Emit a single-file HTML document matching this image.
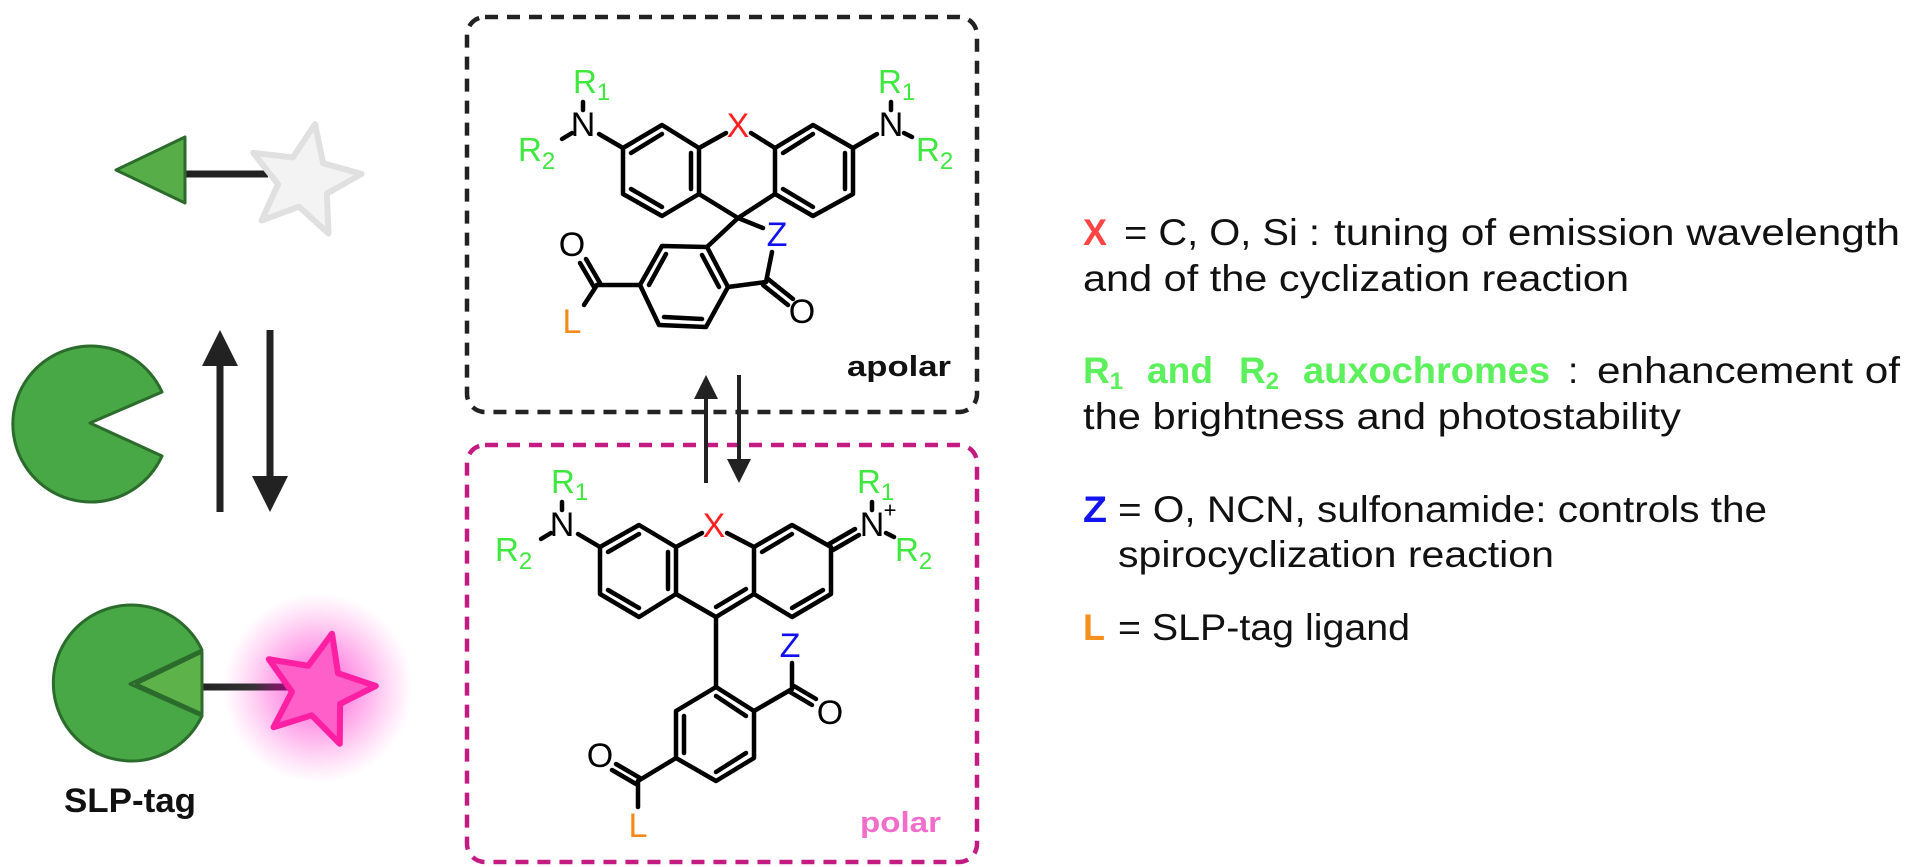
<!DOCTYPE html>
<html><head><meta charset="utf-8"><style>
html,body{margin:0;padding:0;background:#fff;}
svg{display:block;}
</style></head><body>
<svg width="1920" height="867" viewBox="0 0 1920 867" xmlns="http://www.w3.org/2000/svg">
<defs>
<radialGradient id="glow" cx="0.5" cy="0.5" r="0.5">
<stop offset="0" stop-color="#ff40d0" stop-opacity="0.9"/>
<stop offset="0.55" stop-color="#ff60d8" stop-opacity="0.45"/>
<stop offset="1" stop-color="#ff80e0" stop-opacity="0"/>
</radialGradient>
<linearGradient id="lg" gradientUnits="userSpaceOnUse" x1="202" y1="0" x2="285" y2="0">
<stop offset="0" stop-color="#222"/><stop offset="0.6" stop-color="#333"/><stop offset="1" stop-color="#8a1470"/>
</linearGradient>
</defs>

<!-- LEFT SIDE -->
<line x1="185" y1="174" x2="268" y2="174" stroke="#222" stroke-width="7"/>
<polygon points="116,170 185,137 185,203" fill="#57ad47" stroke="#2b6b2b" stroke-width="3" stroke-linejoin="round"/>
<polygon points="0,-1 .265,-.364 .951,-.309 .428,.139 .588,.809 0,.45 -.588,.809 -.428,.139 -.951,-.309 -.265,-.364" transform="translate(304,181) rotate(11) scale(58)" fill="#f3f3f3" stroke="#e0e0e0" stroke-width="6" vector-effect="non-scaling-stroke" stroke-linejoin="round"/>

<path d="M90,423 L162,392 A78,78 0 1,0 162,456 Z" fill="#48a845" stroke="#2b6b2b" stroke-width="3" stroke-linejoin="round"/>

<line x1="220" y1="512" x2="220" y2="360" stroke="#222" stroke-width="7"/>
<polygon points="220,330 202,366 238,366" fill="#222"/>
<line x1="270" y1="330" x2="270" y2="480" stroke="#222" stroke-width="7"/>
<polygon points="270,512 252,476 288,476" fill="#222"/>

<circle cx="318" cy="688" r="95" fill="url(#glow)"/>
<line x1="202" y1="687" x2="290" y2="687" stroke="url(#lg)" stroke-width="7"/>
<path d="M130,684 L202,650 A78,78 0 1,0 202,716 Z" fill="#48a845" stroke="#2b6b2b" stroke-width="3" stroke-linejoin="round"/>
<polygon points="136,684 202,652 202,714" fill="#5db34a" stroke="#2b6b2b" stroke-width="3" stroke-linejoin="round"/>
<polygon points="0,-1 .265,-.364 .951,-.309 .428,.139 .588,.809 0,.45 -.588,.809 -.428,.139 -.951,-.309 -.265,-.364" transform="translate(318,690) rotate(14) scale(58)" fill="#ff5fc8" stroke="#ff1fa2" stroke-width="6" vector-effect="non-scaling-stroke" stroke-linejoin="round"/>
<text x="64" y="812" font-family="Liberation Sans, sans-serif" font-weight="bold" font-size="34" textLength="132" lengthAdjust="spacingAndGlyphs" fill="#111">SLP-tag</text>

<!-- BOXES -->
<rect x="467" y="17" width="510" height="395" rx="18" fill="none" stroke="#222" stroke-width="4.5" stroke-dasharray="13 9"/>
<rect x="467" y="445" width="510" height="417" rx="18" fill="none" stroke="#c41b82" stroke-width="4.5" stroke-dasharray="13 9"/>

<!-- middle arrows -->
<line x1="706" y1="483" x2="706" y2="395" stroke="#222" stroke-width="4"/>
<polygon points="706,375 694,399 718,399" fill="#222"/>
<line x1="739" y1="375" x2="739" y2="462" stroke="#222" stroke-width="4"/>
<polygon points="739,483 727,459 751,459" fill="#222"/>

<!-- APOLAR MOLECULE -->
<g stroke="#000" stroke-width="4.5" fill="none" stroke-linecap="round" stroke-linejoin="round">
<polygon points="662,125 699,148 699,194 662,216 623,194 623,148"/>
<polygon points="813,125 775,148 775,194 813,216 853,194 853,148"/>
<line x1="662" y1="134" x2="631" y2="153"/>
<line x1="691" y1="153" x2="691" y2="189"/>
<line x1="662" y1="207" x2="631" y2="189"/>
<line x1="813" y1="134" x2="783" y2="153"/>
<line x1="845" y1="189" x2="845" y2="153"/>
<line x1="783" y1="189" x2="813" y2="207"/>
<line x1="699" y1="148" x2="726" y2="133"/>
<line x1="751" y1="133" x2="775" y2="148"/>
<line x1="623" y1="148" x2="599" y2="134"/>
<line x1="853" y1="148" x2="877" y2="134"/>
<line x1="583" y1="110" x2="583" y2="102"/>
<line x1="572" y1="133" x2="562" y2="139"/>
<line x1="891" y1="110" x2="891" y2="102"/>
<line x1="904" y1="133" x2="912" y2="137"/>
<polyline points="699,194 738,218 775,194"/>
<line x1="738" y1="218" x2="763" y2="228"/>
<polygon points="707,247 662,246 640,285 659,325 706,327 728,287"/>
<line x1="738" y1="218" x2="707" y2="247"/>
<line x1="666" y1="254" x2="649" y2="285"/>
<line x1="702" y1="255" x2="719" y2="287"/>
<line x1="664" y1="317" x2="702" y2="319"/>
<line x1="728" y1="287" x2="766" y2="282"/>
<line x1="766" y1="282" x2="772" y2="252"/>
<line x1="768" y1="279" x2="793" y2="299"/>
<line x1="763" y1="285" x2="788" y2="305"/>
<line x1="640" y1="285" x2="597" y2="285"/>
<line x1="600" y1="283" x2="586" y2="259"/>
<line x1="594" y1="287" x2="580" y2="263"/>
<line x1="597" y1="285" x2="584" y2="305"/>
</g>
<g font-family="Liberation Sans, sans-serif" font-size="34" text-anchor="middle" dominant-baseline="central">
<text x="738" y="126" fill="#ff2020">X</text>
<text x="583" y="125" fill="#000">N</text>
<text x="891" y="125" fill="#000">N</text>
<text x="777" y="235" fill="#1010ee">Z</text>
<text x="572" y="245" fill="#000">O</text>
<text x="802" y="312" fill="#000">O</text>
<text x="572" y="322" fill="#f28a1c">L</text>
</g>
<g font-family="Liberation Sans, sans-serif" fill="#3ee83e">
<text x="573" y="93" font-size="33">R<tspan font-size="24" dy="7">1</tspan></text>
<text x="518" y="161" font-size="33">R<tspan font-size="24" dy="8">2</tspan></text>
<text x="878" y="93" font-size="33">R<tspan font-size="24" dy="7">1</tspan></text>
<text x="916" y="161" font-size="33">R<tspan font-size="24" dy="8">2</tspan></text>
</g>
<text x="847" y="376" font-family="Liberation Sans, sans-serif" font-weight="bold" font-size="29" textLength="104" lengthAdjust="spacingAndGlyphs" fill="#111">apolar</text>

<!-- POLAR MOLECULE -->
<g stroke="#000" stroke-width="4.5" fill="none" stroke-linecap="round" stroke-linejoin="round">
<polygon points="639,525 676,547 676,594 639,617 600,594 600,547"/>
<polygon points="792,525 754,547 754,594 792,617 831,594 831,547"/>
<line x1="639" y1="534" x2="608" y2="552"/>
<line x1="668" y1="552" x2="668" y2="589"/>
<line x1="639" y1="608" x2="608" y2="590"/>
<line x1="792" y1="534" x2="762" y2="552"/>
<line x1="792" y1="608" x2="823" y2="590"/>
<line x1="676" y1="547" x2="702" y2="533"/>
<line x1="727" y1="533" x2="754" y2="547"/>
<polyline points="676,594 716,617 754,594"/>
<line x1="746" y1="589" x2="716" y2="607"/>
<line x1="600" y1="547" x2="578" y2="534"/>
<line x1="562" y1="510" x2="562" y2="502"/>
<line x1="551" y1="533" x2="541" y2="539"/>
<line x1="833" y1="550" x2="859" y2="535"/>
<line x1="829" y1="544" x2="855" y2="529"/>
<line x1="872" y1="510" x2="872" y2="502"/>
<line x1="886" y1="533" x2="894" y2="537"/>
<line x1="716" y1="617" x2="716" y2="687"/>
<polygon points="716,687 754,711 754,758 716,781 676,758 676,711"/>
<line x1="716" y1="696" x2="746" y2="716"/>
<line x1="684" y1="753" x2="684" y2="716"/>
<line x1="746" y1="753" x2="716" y2="772"/>
<line x1="754" y1="711" x2="792" y2="689"/>
<line x1="792" y1="689" x2="792" y2="663"/>
<line x1="794" y1="686" x2="816" y2="699"/>
<line x1="790" y1="692" x2="812" y2="705"/>
<line x1="676" y1="758" x2="638" y2="781"/>
<line x1="640" y1="778" x2="616" y2="764"/>
<line x1="636" y1="784" x2="612" y2="770"/>
<line x1="638" y1="781" x2="638" y2="807"/>
</g>
<g font-family="Liberation Sans, sans-serif" font-size="34" text-anchor="middle" dominant-baseline="central">
<text x="714" y="526" fill="#ff2020">X</text>
<text x="562" y="525" fill="#000">N</text>
<text x="872" y="525" fill="#000">N</text>
<text x="890" y="510" font-size="22" fill="#000">+</text>
<text x="790" y="646" fill="#1010ee">Z</text>
<text x="830" y="713" fill="#000">O</text>
<text x="600" y="756" fill="#000">O</text>
<text x="638" y="826" fill="#f28a1c">L</text>
</g>
<g font-family="Liberation Sans, sans-serif" fill="#3ee83e">
<text x="551" y="493" font-size="33">R<tspan font-size="24" dy="7">1</tspan></text>
<text x="495" y="561" font-size="33">R<tspan font-size="24" dy="8">2</tspan></text>
<text x="857" y="493" font-size="33">R<tspan font-size="24" dy="7">1</tspan></text>
<text x="895" y="561" font-size="33">R<tspan font-size="24" dy="8">2</tspan></text>
</g>
<text x="860" y="832" font-family="Liberation Sans, sans-serif" font-weight="bold" font-size="29" textLength="81" lengthAdjust="spacingAndGlyphs" fill="#f26dc9">polar</text>

<!-- RIGHT TEXT -->
<g font-family="Liberation Sans, sans-serif" font-size="37" fill="#111">
<text x="1083" y="245" font-weight="bold" fill="#ff4444" textLength="24" lengthAdjust="spacingAndGlyphs">X</text>
<text x="1124" y="245" textLength="196" lengthAdjust="spacingAndGlyphs">= C, O, Si :</text>
<text x="1334" y="245" textLength="566" lengthAdjust="spacingAndGlyphs">tuning of emission wavelength</text>
<text x="1083" y="291" textLength="546" lengthAdjust="spacingAndGlyphs">and of the cyclization reaction</text>
<g font-weight="bold" fill="#5cf05c">
<text x="1083" y="383">R<tspan font-size="24" dy="6">1</tspan></text>
<text x="1147" y="383" textLength="66" lengthAdjust="spacingAndGlyphs">and</text>
<text x="1239" y="383">R<tspan font-size="24" dy="6">2</tspan></text>
<text x="1303" y="383" textLength="247" lengthAdjust="spacingAndGlyphs">auxochromes</text>
</g>
<text x="1568" y="383">:</text>
<text x="1597" y="383" textLength="303" lengthAdjust="spacingAndGlyphs">enhancement  of</text>
<text x="1083" y="429" textLength="598" lengthAdjust="spacingAndGlyphs">the brightness and photostability</text>
</g>
<g font-family="Liberation Sans, sans-serif" font-size="37" fill="#111">
<text x="1083" y="522" font-weight="bold" fill="#1414f0" textLength="24" lengthAdjust="spacingAndGlyphs">Z</text>
<text x="1118" y="522" textLength="649" lengthAdjust="spacingAndGlyphs">= O, NCN, sulfonamide: controls the</text>
<text x="1118" y="567" textLength="436" lengthAdjust="spacingAndGlyphs">spirocyclization reaction</text>
<text x="1083" y="640" font-weight="bold" fill="#f5901e" textLength="22" lengthAdjust="spacingAndGlyphs">L</text>
<text x="1118" y="640" textLength="292" lengthAdjust="spacingAndGlyphs">= SLP-tag ligand</text>
</g>
</svg>
</body></html>
